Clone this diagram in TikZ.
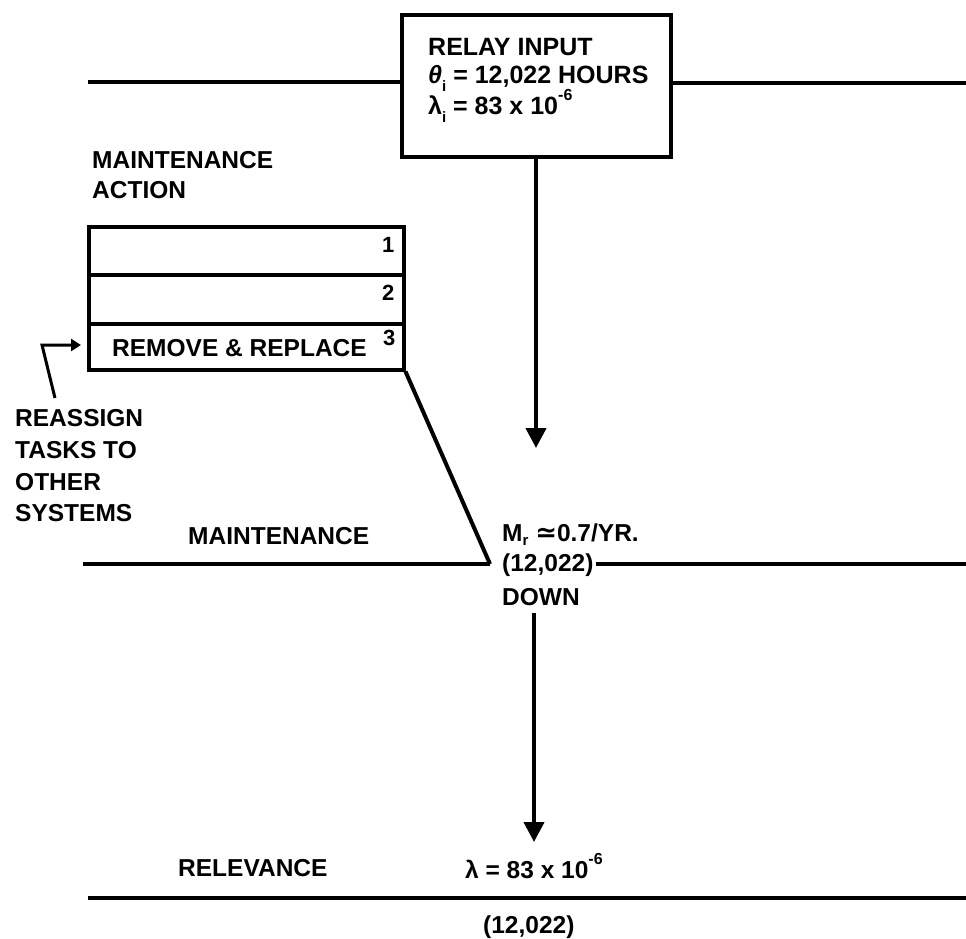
\documentclass[tikz,border=0pt]{standalone}
\usepackage{fontspec}
\setmainfont{Liberation Sans}
\newfontfamily\dejavu{DejaVu Sans}
\usetikzlibrary{arrows.meta}
\newcommand\mysub[1]{\raisebox{-0.35em}{\fontsize{15}{15}\selectfont #1}}
\newcommand\mysubr[1]{\raisebox{-0.2em}{\fontsize{15}{15}\selectfont #1}}
\newcommand\mysup[1]{\raisebox{0.55em}{\fontsize{16}{16}\selectfont #1}}
\begin{document}
\begin{tikzpicture}[x=1pt,y=-1pt,
  lbl/.style={font=\bfseries\fontsize{24.5}{30}\selectfont, inner sep=0pt, anchor=base west},
  blbl/.style={font=\bfseries\fontsize{25}{30}\selectfont, inner sep=0pt, anchor=base west},
  num/.style={font=\bfseries\fontsize{22}{26}\selectfont, inner sep=0pt, anchor=base west},
  ln/.style={line width=4pt},
  bx/.style={draw, line width=3.5pt, inner sep=0pt, anchor=north west},
  arr/.style={line width=4pt, -{Triangle[width=20pt,length=20pt]}},
  sarr/.style={line width=3pt, -{Triangle[width=12pt,length=10pt]}}]
\useasboundingbox (0,0) rectangle (966,938);
% relay input box
\node[bx, minimum width=269pt, minimum height=142pt] (relay) at (400,13) {};
\node[blbl] (t1) at (428,55) {RELAY INPUT};
\node[blbl] (t2) at (428,83) {\textit{θ}\mysub{i} = 12,022 HOURS};
\node[blbl] (t3) at (428,114) {λ\mysub{i} = 83 x 10\mysup{-6}};
\coordinate (tl) at (88,82);
\coordinate (tr) at (966,83);
\draw[ln] (tl) -- (tl -| relay.west);
\draw[ln] (relay.east |- tr) -- (tr);
\coordinate (a1) at (536,448);
\draw[arr] (relay.south -| a1) -- (a1);
% maintenance action
\node[lbl] (ma1) at (92,168) {MAINTENANCE};
\node[lbl] (ma2) at (92,198) {ACTION};
\node[bx, minimum width=315pt, minimum height=48pt] (r1) at (87,225) {};
\node[bx, minimum width=315pt, minimum height=49pt] (r2) at (87,273) {};
\node[bx, minimum width=315pt, minimum height=46pt] (r3) at (87,322) {};
\node[num] (n1) at (382,252) {1};
\node[num] (n2) at (382,300) {2};
\node[num] (n3) at (383,345) {3};
\node[lbl] (rr) at (112,356) {REMOVE \& REPLACE};
% reassign
\coordinate (rs) at (55,398);
\coordinate (rb) at (42,345);
\coordinate (rt) at (81,345);
\draw[sarr] (rs) -- (rb) -- (rt);
\node[lbl] (re1) at (15,426) {REASSIGN};
\node[lbl] (re2) at (15,458) {TASKS TO};
\node[lbl] (re3) at (15,490) {OTHER};
\node[lbl] (re4) at (15,521) {SYSTEMS};
% maintenance level
\node[lbl] (mt) at (188,544) {MAINTENANCE};
\node[lbl] (mr) at (502,541) {M\mysubr{r} {\dejavu\bfseries\fontsize{26}{26}\selectfont ≃}0.7/YR.};
\node[lbl] (mc) at (502,571) {(12,022)};
\node[lbl] (dn) at (502,605) {DOWN};
\coordinate (ml) at (83,564);
\coordinate (dj) at (490,564);
\coordinate (mre) at (966,564);
\draw[ln] (r3.south east) -- (dj);
\draw[ln] (ml) -- (dj);
\draw[ln] (mc.east |- mre) ++(2,0) -- (mre);
\coordinate (a2s) at (534,613);
\coordinate (a2e) at (534,842);
\draw[arr] (a2s) -- (a2e);
% relevance
\node[lbl] (rel) at (178,876) {RELEVANCE};
\node[lbl] (lam) at (465,878) {λ = 83 x 10\mysup{-6}};
\coordinate (bl) at (88,898);
\coordinate (br) at (966,898);
\draw[ln] (bl) -- (br);
\node[lbl] (bc) at (483,933) {(12,022)};
\end{tikzpicture}
\end{document}
